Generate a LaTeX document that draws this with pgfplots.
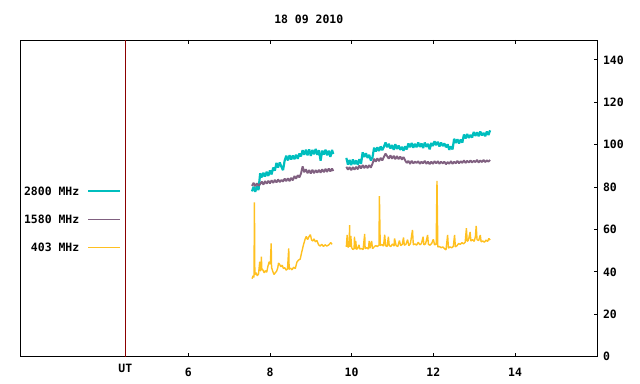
\documentclass[border=0pt]{standalone}
\usepackage{fontspec}
\setmainfont{DejaVu Sans Mono}
\usepackage{pgfplots}
\usepackage{pgfplotstable}
\pgfplotsset{compat=1.18}
\definecolor{c2800}{RGB}{0,190,190}
\definecolor{c1580}{RGB}{128,96,128}
\definecolor{c403}{RGB}{255,192,32}
\definecolor{utred}{RGB}{140,0,0}

\pgfplotstableread{
x y
7.56 78.0
7.60 80.2
7.64 77.8
7.68 80.4
7.72 78.6
7.76 86.5
7.80 84.6
7.84 86.8
7.88 85.0
7.92 87.2
7.96 85.3
8.00 87.8
8.04 86.0
8.08 89.2
8.12 87.8
8.16 91.4
8.20 89.3
8.24 91.6
8.28 89.6
8.32 88.0
8.36 92.5
8.40 94.8
8.44 92.6
8.48 95.0
8.52 93.0
8.56 94.9
8.60 93.2
8.64 95.3
8.68 93.4
8.72 95.8
8.76 94.5
8.80 97.4
8.84 95.3
8.88 97.6
8.92 95.0
8.96 97.8
9.00 94.8
9.04 97.5
9.08 95.5
9.12 98.0
9.16 95.2
9.20 97.4
9.24 92.5
9.28 97.2
9.32 95.4
9.36 97.6
9.40 95.0
9.44 97.2
9.48 94.3
9.52 97.5
9.55 95.6
nan nan
9.87 93.8
9.91 90.6
9.95 92.8
9.99 90.4
10.03 93.0
10.07 90.8
10.11 92.6
10.15 90.5
10.19 93.2
10.23 91.0
10.27 96.4
10.31 94.2
10.35 96.0
10.39 93.8
10.43 95.2
10.47 92.6
10.51 94.0
10.55 98.6
10.59 96.8
10.63 98.8
10.67 97.0
10.71 99.2
10.75 97.4
10.79 99.0
10.83 101.0
10.87 98.8
10.91 100.4
10.95 98.2
10.99 99.8
11.03 97.6
11.07 100.2
11.11 98.0
11.15 99.6
11.19 97.6
11.23 99.0
11.27 97.2
11.31 99.2
11.35 97.8
11.39 100.6
11.43 98.8
11.47 100.8
11.51 98.6
11.55 100.4
11.59 98.8
11.63 101.0
11.67 99.0
11.71 100.6
11.75 98.4
11.79 101.0
11.83 99.0
11.87 100.4
11.91 97.8
11.95 100.8
11.99 99.4
12.03 101.6
12.07 99.8
12.11 101.4
12.15 99.2
12.19 101.0
12.23 99.4
12.27 100.6
12.31 98.8
12.35 100.2
12.39 97.6
12.43 99.2
12.47 97.8
12.51 102.8
12.55 100.8
12.59 102.6
12.63 100.6
12.67 102.4
12.71 101.0
12.75 104.8
12.79 103.0
12.83 105.0
12.87 103.2
12.91 104.6
12.95 103.4
12.99 106.0
13.03 104.2
13.07 105.8
13.11 104.0
13.15 106.2
13.19 104.4
13.23 105.6
13.27 104.0
13.31 106.2
13.35 104.6
13.39 106.8
}\cyandata

\pgfplotstableread{
x y
7.56 80.6
7.60 82.0
7.64 80.4
7.68 81.8
7.72 80.6
7.76 81.4
7.80 82.6
7.84 81.2
7.88 82.8
7.92 81.6
7.96 83.0
8.00 81.8
8.04 83.2
8.08 82.0
8.12 83.4
8.16 82.2
8.20 83.6
8.24 82.4
8.28 83.4
8.32 82.6
8.36 84.0
8.40 82.8
8.44 84.2
8.48 82.8
8.52 84.4
8.56 83.2
8.60 85.2
8.64 84.0
8.68 85.6
8.72 84.6
8.76 86.4
8.80 89.8
8.84 87.0
8.88 88.4
8.92 86.6
8.96 88.0
9.00 86.4
9.04 88.2
9.08 86.6
9.12 88.0
9.16 86.8
9.20 88.2
9.24 86.8
9.28 88.4
9.32 87.0
9.36 88.6
9.40 87.2
9.44 88.8
9.48 87.4
9.52 88.8
9.55 87.6
nan nan
9.87 89.6
9.91 88.2
9.95 89.4
9.99 88.0
10.03 89.4
10.07 88.2
10.11 89.6
10.15 88.4
10.19 90.2
10.23 88.8
10.27 90.4
10.31 89.0
10.35 90.2
10.39 89.0
10.43 90.4
10.47 89.2
10.51 91.0
10.55 93.4
10.59 92.0
10.63 93.6
10.67 92.2
10.71 93.8
10.75 92.6
10.79 94.2
10.83 95.8
10.87 94.6
10.91 93.4
10.95 95.0
10.99 93.4
11.03 94.8
11.07 93.2
11.11 94.6
11.15 93.2
11.19 94.4
11.23 93.0
11.27 94.2
11.31 92.6
11.35 91.4
11.39 92.4
11.43 91.0
11.47 92.4
11.51 91.2
11.55 92.0
11.59 91.4
11.63 92.2
11.67 91.0
11.71 92.0
11.75 91.2
11.79 92.4
11.83 91.0
11.87 92.0
11.91 90.8
11.95 92.0
11.99 91.0
12.03 92.2
12.07 91.2
12.11 92.2
12.15 91.0
12.19 92.0
12.23 91.2
12.27 92.0
12.31 90.8
12.35 91.8
12.39 91.0
12.43 92.2
12.47 91.0
12.51 92.0
12.55 91.2
12.59 92.4
12.63 91.2
12.67 92.2
12.71 91.4
12.75 92.6
12.79 91.4
12.83 92.4
12.87 91.6
12.91 92.6
12.95 91.6
12.99 92.4
13.03 91.8
13.07 92.8
13.11 91.6
13.15 92.6
13.19 91.8
13.23 92.8
13.27 91.8
13.31 92.6
13.35 92.0
13.39 92.8
}\purpledata

\pgfplotstableread{
x y
7.56 36.8
7.59 38.2
7.61 37.4
7.62 72.8
7.63 38.6
7.66 39.6
7.69 38.2
7.72 39.0
7.75 44.8
7.76 40.4
7.78 41.0
7.79 47.2
7.80 41.6
7.83 40.8
7.86 39.6
7.89 40.6
7.92 39.8
7.95 42.6
7.98 44.8
8.01 43.6
8.03 53.5
8.04 42.0
8.07 40.2
8.10 38.8
8.13 39.6
8.16 40.2
8.19 41.8
8.21 44.2
8.24 43.4
8.27 42.4
8.30 43.2
8.33 41.6
8.36 42.0
8.40 40.8
8.43 41.4
8.46 51.1
8.47 41.2
8.50 41.8
8.54 41.0
8.58 42.2
8.62 41.6
8.66 44.6
8.70 45.6
8.74 46.0
8.78 49.5
8.82 52.7
8.86 55.4
8.89 56.8
8.92 55.2
8.95 56.4
8.99 57.6
9.02 55.0
9.05 54.6
9.08 55.6
9.11 54.2
9.15 54.8
9.19 52.8
9.23 52.2
9.27 53.0
9.31 52.0
9.35 52.8
9.39 52.2
9.43 52.6
9.46 53.2
9.49 53.8
9.52 53.0
nan nan
9.87 51.8
9.89 57.4
9.91 51.6
9.94 52.2
9.95 62.1
9.96 51.8
9.98 57.0
10.00 51.4
10.03 50.6
10.06 51.0
10.07 56.6
10.08 50.8
10.10 54.6
10.12 50.6
10.15 51.2
10.18 52.8
10.20 50.8
10.24 51.0
10.28 50.6
10.32 57.9
10.33 51.0
10.37 51.4
10.41 50.8
10.43 54.6
10.45 51.2
10.49 54.6
10.51 51.0
10.55 51.8
10.59 52.4
10.63 52.0
10.67 52.6
10.68 75.8
10.70 52.4
10.74 53.0
10.78 52.2
10.81 57.5
10.83 52.4
10.87 52.0
10.90 56.6
10.92 52.4
10.96 52.0
11.00 53.2
11.04 52.2
11.05 55.8
11.09 52.4
11.13 52.0
11.17 54.8
11.20 52.4
11.24 53.0
11.27 56.2
11.29 52.6
11.33 53.0
11.37 55.2
11.40 52.4
11.44 53.4
11.49 59.8
11.51 52.8
11.55 53.2
11.59 52.6
11.63 54.0
11.67 52.8
11.71 53.4
11.75 56.6
11.77 52.8
11.81 53.2
11.86 57.4
11.88 53.0
11.92 52.6
11.96 53.4
12.00 55.4
12.03 52.8
12.07 53.0
12.09 82.9
12.11 51.8
12.15 52.0
12.19 51.4
12.23 51.8
12.27 51.0
12.31 50.4
12.35 57.4
12.37 51.2
12.41 51.8
12.45 51.4
12.49 52.0
12.52 57.4
12.54 51.8
12.58 52.4
12.62 53.4
12.66 53.0
12.70 53.8
12.74 53.2
12.78 54.0
12.81 60.6
12.83 54.4
12.86 55.0
12.90 58.8
12.92 54.6
12.96 55.2
13.00 54.4
13.03 56.6
13.05 61.7
13.07 55.2
13.11 54.8
13.15 57.4
13.17 54.2
13.21 54.6
13.25 54.0
13.29 55.0
13.33 54.4
13.36 55.8
13.39 55.0
}\yellowdata

\begin{document}
\begin{tikzpicture}[font=\fontsize{11.5}{13}\selectfont\bfseries]
\begin{axis}[
  at={(20bp,27.3bp)}, anchor=south west,
  scale only axis, width=577.5bp, height=316.7bp,
  xmin=1.88, xmax=16.02, ymin=0, ymax=149.4,
  xtick={6,8,10,12,14},
  ytick={0,20,40,60,80,100,120,140},
  ytick pos=right, yticklabel pos=right,
  tick align=inside,
  major tick length=4bp,
  axis line style={black, line width=0.9bp},
  tick style={black, line width=0.9bp},
  x tick label style={yshift=-7.5bp},
  y tick label style={xshift=2bp},
  extra x ticks={4.46}, extra x tick labels={UT},
  extra x tick style={major tick length=0pt, tick label style={yshift=3.3bp}},
  /pgf/number format/assume math mode=true,
  unbounded coords=jump,
  legend plot pos=right,
  legend cell align=right,
  legend image code/.code={\draw[#1] (0bp,0bp) -- (32bp,0bp);},
  legend style={at={(0.175,0.434)}, anchor=east, draw=none, fill=none,
    row sep=19.9bp, column sep=8bp, inner sep=0pt,
    nodes={inner sep=0pt, text height=8.4bp, text depth=0bp}},
]
\addlegendimage{draw=c2800, line width=1.3bp}
\addlegendentry{2800 MHz}
\addlegendimage{draw=c1580, line width=1.3bp}
\addlegendentry{1580 MHz}
\addlegendimage{draw=c403, line width=1.6bp}
\addlegendentry{403 MHz}
\addplot[utred, line width=0.9bp, forget plot] coordinates {(4.46,0) (4.46,149.4)};
\addplot[c2800, line width=2.2bp, line join=bevel, forget plot] table[x=x, y=y] {\cyandata};
\addplot[c1580, line width=1.9bp, line join=bevel, forget plot] table[x=x, y=y] {\purpledata};
\addplot[c403, line width=1.4bp, line join=bevel, forget plot] table[x=x, y=y] {\yellowdata};
\end{axis}
\node at (308.75bp,365bp) {18 09 2010};
\pgfresetboundingbox
\path[use as bounding box] (0,0) rectangle (640bp,384bp);
\end{tikzpicture}
\end{document}
